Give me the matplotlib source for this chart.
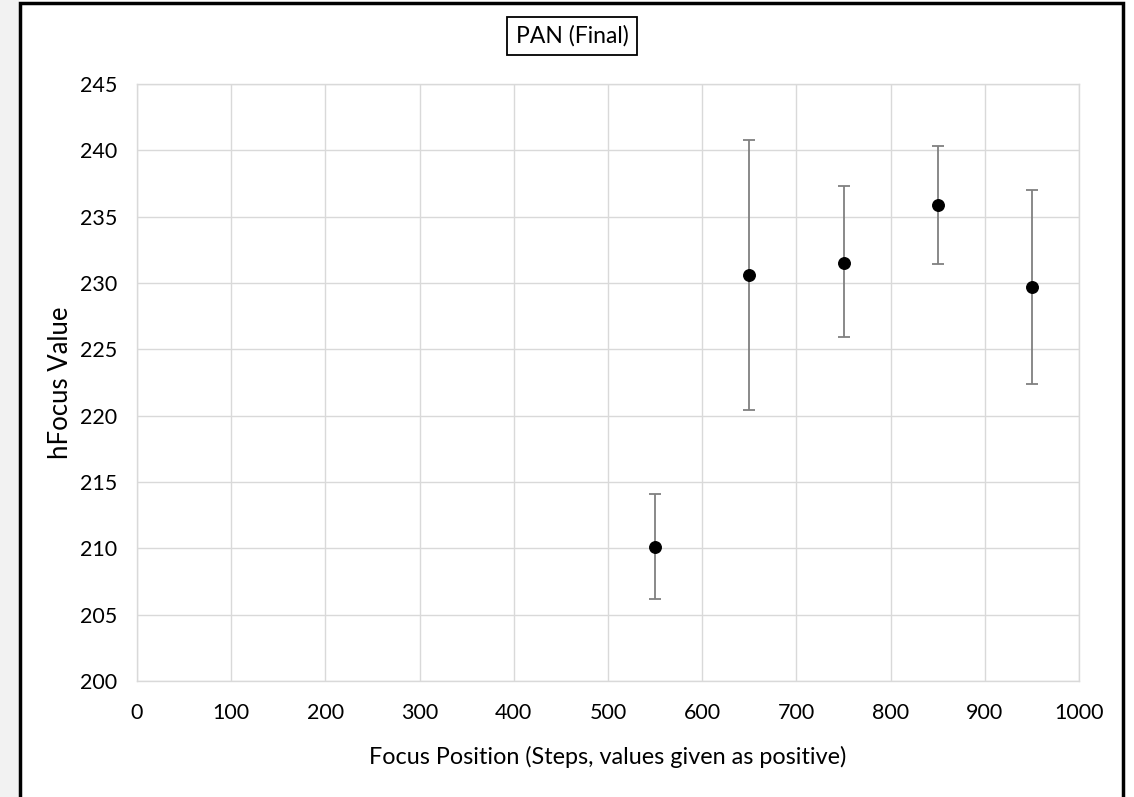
import matplotlib
matplotlib.use("Agg")
import matplotlib.pyplot as plt
from matplotlib.patches import Rectangle

positions = [550, 650, 750, 850, 950]
hfocus = [210.1, 230.6, 231.5, 235.9, 229.7]
err_upper = [214.1, 240.8, 237.3, 240.3, 237.0]
err_lower = [206.2, 220.4, 225.9, 231.4, 222.4]
xticks = [0, 100, 200, 300, 400, 500, 600, 700, 800, 900, 1000]
yticks = [200, 205, 210, 215, 220, 225, 230, 235, 240, 245]

plt.rcParams['font.family'] = ['Lato', 'DejaVu Sans']

fig = plt.figure(figsize=(11.34, 7.97), dpi=100)
fig.patch.set_facecolor('white')
ax = fig.add_axes([137/1134, 1-681/797, (1079-137)/1134, (681-84)/797])

yerr = [[h - l for h, l in zip(hfocus, err_lower)], [u - h for h, u in zip(hfocus, err_upper)]]
ax.errorbar(positions, hfocus, yerr=yerr, fmt='o', color='black', markersize=8.3,
            ecolor='#808080', elinewidth=1.3, capsize=4, capthick=1.3, zorder=3)

ax.set_xlim(0, 1000)
ax.set_ylim(200, 245)
ax.set_xticks(xticks)
ax.set_yticks(yticks)
ax.grid(True, color='#d9d9d9', linewidth=1)
ax.set_axisbelow(True)
for s in ax.spines.values():
    s.set_color('#d9d9d9')
    s.set_linewidth(1)
ax.tick_params(length=0, labelsize=15.5, colors='black')
ax.tick_params(axis='x', pad=16)
ax.tick_params(axis='y', pad=14)
ax.set_xlabel('Focus Position (Steps, values given as positive)', fontsize=16.8, labelpad=16)
ax.set_ylabel('hFocus Value', fontsize=18.5, labelpad=5)

fig.text(572/1134, 1-36/797, 'PAN (Final)', ha='center', va='center', fontsize=16.5,
         bbox=dict(boxstyle='square,pad=0.38', facecolor='white', edgecolor='black', linewidth=1.3))

fig.patches.append(Rectangle((0, 0), 19/1134, 1, transform=fig.transFigure,
                             facecolor='#f2f2f2', edgecolor='none', zorder=0))
fig.patches.append(Rectangle((20/1134, -0.01), (1123-20)/1134, 1.01 - 3/797, transform=fig.transFigure,
                             facecolor='none', edgecolor='black', linewidth=2.5, zorder=5))

fig.savefig('out.png', dpi=100)
